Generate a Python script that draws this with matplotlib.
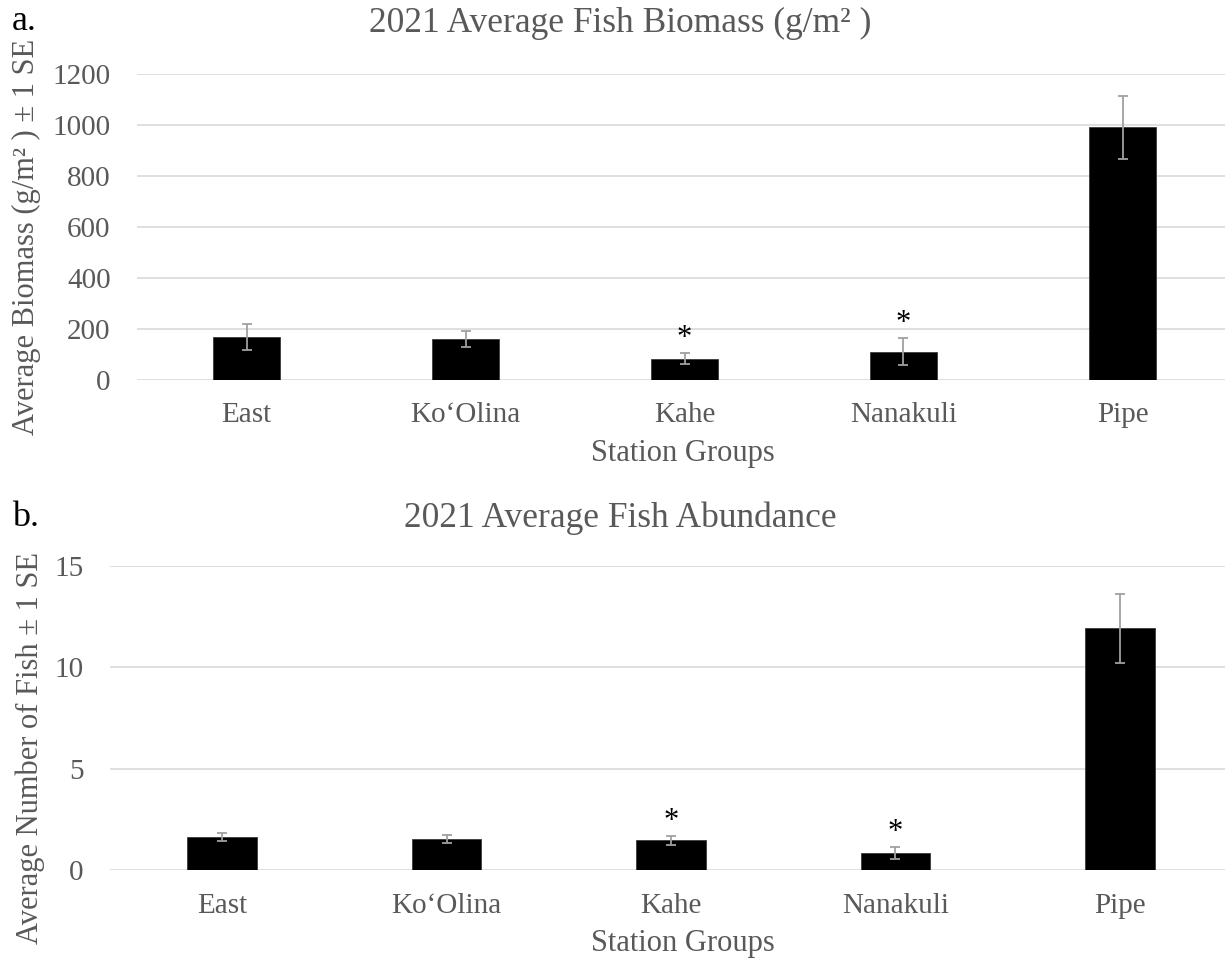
import numpy as np
import matplotlib
matplotlib.use("Agg")
import matplotlib.pyplot as plt

# Station groups
stations = ["East", "Ko\u2018Olina", "Kahe", "Nanakuli", "Pipe"]

# Panel a: biomass (g/m2) and standard error
biomass = [168, 160, 84, 111, 990]
biomass_se = [52, 32, 20, 54, 124]

# Panel b: abundance (number of fish) and standard error
abundance = [1.66, 1.55, 1.47, 0.85, 11.93]
abundance_se = [0.20, 0.20, 0.22, 0.31, 1.70]

# significant difference markers
signif = [False, False, True, True, False]

grey = "#595959"
plt.rcParams["font.family"] = ["Liberation Serif", "DejaVu Serif"]

W, H = 1225, 958
fig = plt.figure(figsize=(W / 100, H / 100), dpi=100)


def px_axes(left, right, top, bottom):
    return fig.add_axes([left / W, (H - bottom) / H, (right - left) / W, (bottom - top) / H])


def draw_panel(ax, values, errs, ymax, step):
    x = np.arange(len(stations))
    ax.bar(x, values, width=0.31, color="black", edgecolor="#3a3a3a", linewidth=0.6, zorder=3)
    ax.errorbar(x, values, yerr=errs, fmt="none", ecolor="#a0a0a0", elinewidth=1.3,
                capsize=3.6, capthick=1.3, zorder=4)
    for i, flag in enumerate(signif):
        if flag:
            ax.annotate("*", (x[i], values[i] + errs[i]), xytext=(0, 0),
                        textcoords="offset points", ha="center", va="bottom",
                        fontsize=22, color="black")
    ax.set_xlim(-0.5, len(stations) - 0.5)
    ax.set_ylim(0, ymax)
    ax.set_yticks(np.arange(0, ymax + 1, step))
    ax.set_xticks(x)
    ax.set_xticklabels(stations)
    ax.grid(axis="y", color="#d9d9d9", linewidth=1.2, zorder=0)
    for s in ax.spines.values():
        s.set_visible(False)
    ax.tick_params(axis="both", length=0, labelsize=21, labelcolor=grey)
    ax.tick_params(axis="x", pad=16)
    ax.tick_params(axis="y", pad=19)
    ax.set_axisbelow(True)


# Panel a
ax1 = px_axes(137, 1232, 73.7, 380)
draw_panel(ax1, biomass, biomass_se, 1200, 200)
fig.text(12 / W, 1 - 22 / H, "a.", fontsize=26, color="black", va="center", ha="left")
fig.text(620 / W, 1 - 23 / H, "2021 Average Fish Biomass (g/m\u00b2 )", fontsize=25.5,
         color=grey, ha="center", va="center")
fig.text(26 / W, 1 - 237 / H, "Average Biomass (g/m\u00b2 ) \u00b1 1 SE", fontsize=22,
         color=grey, rotation=90, ha="center", va="center")
fig.text(683 / W, 1 - 454 / H, "Station Groups", fontsize=22, color=grey,
         ha="center", va="center")

# Panel b
ax2 = px_axes(110, 1232, 566, 870.3)
draw_panel(ax2, abundance, abundance_se, 15, 5)
fig.text(12 / W, 1 - 517 / H, "b.", fontsize=26, color="black", va="center", ha="left")
fig.text(620 / W, 1 - 518 / H, "2021 Average Fish Abundance", fontsize=25.5,
         color=grey, ha="center", va="center")
fig.text(30 / W, 1 - 748 / H, "Average Number of Fish \u00b1 1 SE", fontsize=22,
         color=grey, rotation=90, ha="center", va="center")
fig.text(683 / W, 1 - 943 / H, "Station Groups", fontsize=22, color=grey,
         ha="center", va="center")

fig.savefig("out.png", dpi=100)
